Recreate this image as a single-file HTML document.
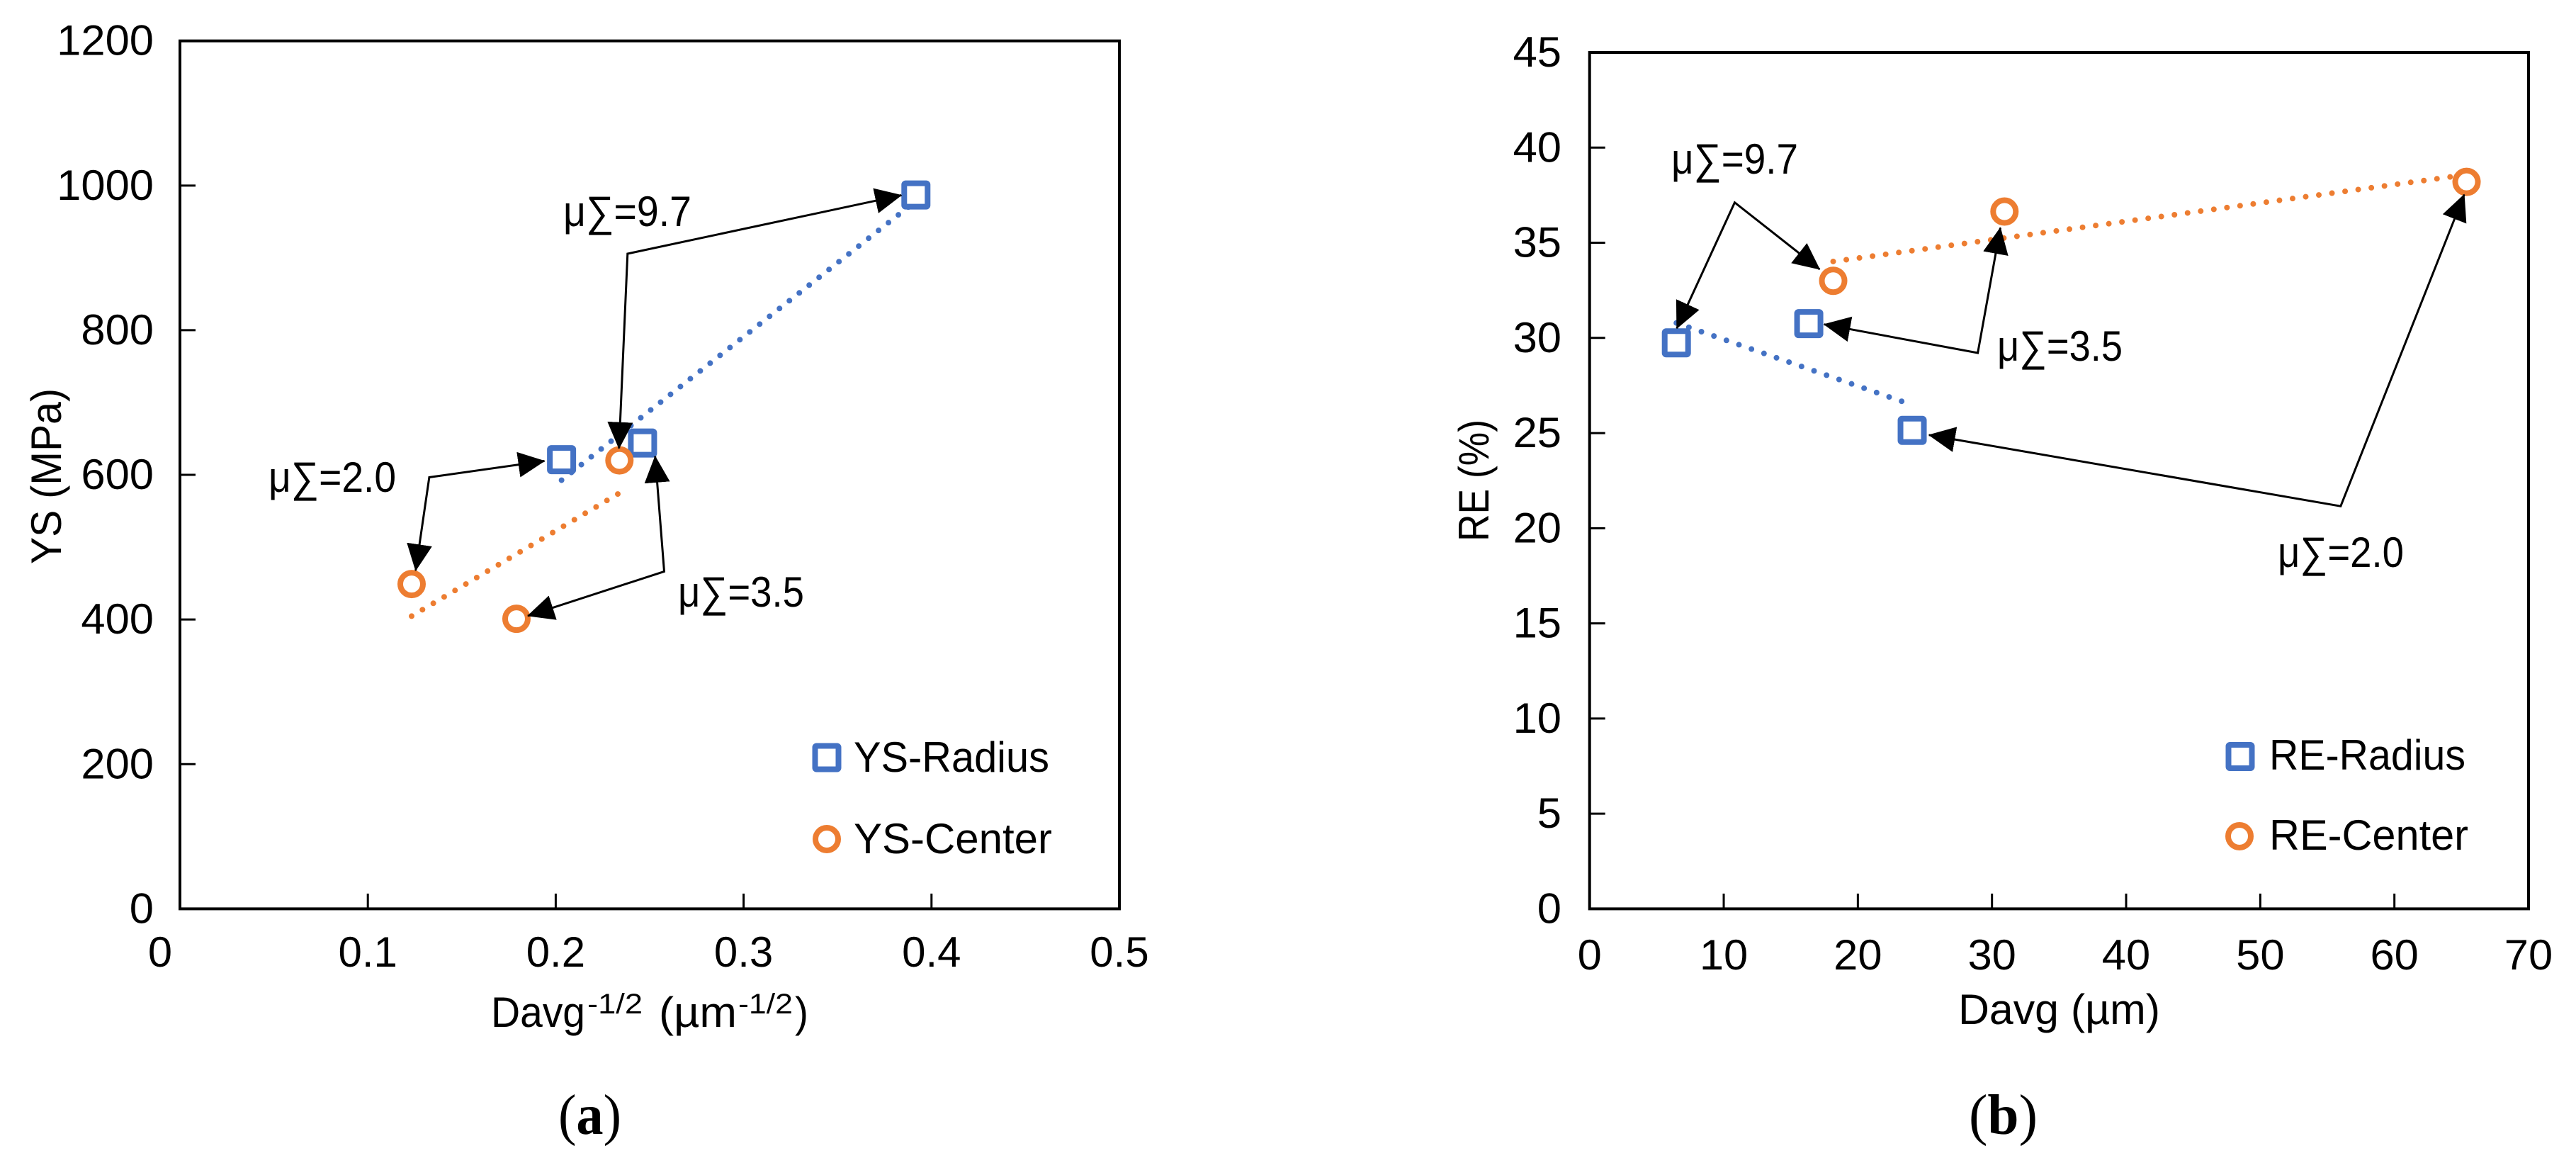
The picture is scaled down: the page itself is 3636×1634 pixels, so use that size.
<!DOCTYPE html>
<html lang="en">
<head>
<meta charset="utf-8">
<title>YS and RE versus grain size</title>
<style>
html,body{margin:0;padding:0;background:#fff;}
svg{display:block;}
text{font-family:"Liberation Sans",sans-serif;font-size:60px;fill:#000;}
.sup{font-size:40px;}
.cap{font-family:"Liberation Serif",serif;font-size:80px;}
.frame{fill:none;stroke:#000;stroke-width:4;}
.arrow{fill:none;stroke:#000;stroke-width:3;}
</style>
</head>
<body>
<svg id="figure" xmlns="http://www.w3.org/2000/svg" width="3636" height="1634" viewBox="0 0 3636 1634">
<defs>
<marker id="ah" markerUnits="userSpaceOnUse" markerWidth="42" markerHeight="38" refX="37" refY="18" orient="auto-start-reverse">
<path d="M0 0L38 18L0 36Z" fill="#000"/>
</marker>
</defs>
<rect width="3636" height="1634" fill="#fff"/>

<g id="chart-a">
<rect class="frame" x="254" y="57.7" width="1326" height="1224.7"/>
<g id="ticks-a"></g>
<g id="trends-a"></g>
<g id="marks-a"></g>
<text transform="translate(86 796) rotate(-90)" textLength="248" lengthAdjust="spacingAndGlyphs">YS (MPa)</text>
<g>
<text x="693" y="1449" textLength="133" lengthAdjust="spacingAndGlyphs">Davg</text>
<text class="sup" x="829" y="1430" textLength="78" lengthAdjust="spacingAndGlyphs">-1/2</text>
<text x="930" y="1449" textLength="110" lengthAdjust="spacingAndGlyphs">(µm</text>
<text class="sup" x="1042" y="1430" textLength="77" lengthAdjust="spacingAndGlyphs">-1/2</text>
<text x="1122" y="1449" textLength="19" lengthAdjust="spacingAndGlyphs">)</text>
</g>
<g>
<text x="795" y="319" textLength="181" lengthAdjust="spacingAndGlyphs">μ∑=9.7</text>
<polyline class="arrow" points="1272.3,275.5 885.8,358 873.7,632.7" marker-start="url(#ah)" marker-end="url(#ah)"/>
</g>
<g>
<text x="379" y="694" textLength="180" lengthAdjust="spacingAndGlyphs">μ∑=2.0</text>
<polyline class="arrow" points="768.5,650.5 605.9,673.5 586.7,805" marker-start="url(#ah)" marker-end="url(#ah)"/>
</g>
<g>
<text x="957" y="856" textLength="178" lengthAdjust="spacingAndGlyphs">μ∑=3.5</text>
<polyline class="arrow" points="924.7,643.9 937.5,806.4 745,869" marker-start="url(#ah)" marker-end="url(#ah)"/>
</g>
<g>
<rect x="1150.5" y="1052.5" width="33" height="33" rx="2" fill="#fff" stroke="#4472C4" stroke-width="8"/>
<text x="1205" y="1089" textLength="276" lengthAdjust="spacingAndGlyphs">YS-Radius</text>
<circle cx="1167" cy="1184" r="16" fill="#fff" stroke="#ED7D31" stroke-width="8"/>
<text x="1205" y="1204" textLength="280" lengthAdjust="spacingAndGlyphs">YS-Center</text>
</g>
<text class="cap" x="788" y="1600" textLength="89" lengthAdjust="spacingAndGlyphs">(<tspan font-weight="bold">a</tspan>)</text>
</g>

<g id="chart-b">
<rect class="frame" x="2243.7" y="74" width="1325.3" height="1208.4"/>
<g id="ticks-b"></g>
<g id="trends-b"></g>
<g id="marks-b"></g>
<text transform="translate(2101 764) rotate(-90)" textLength="172" lengthAdjust="spacingAndGlyphs">RE (%)</text>
<text x="2764" y="1445" textLength="285" lengthAdjust="spacingAndGlyphs">Davg (µm)</text>
<g>
<text x="2359" y="245" textLength="179" lengthAdjust="spacingAndGlyphs">μ∑=9.7</text>
<polyline class="arrow" points="2366.8,463.3 2448.5,285.7 2568.4,380" marker-start="url(#ah)" marker-end="url(#ah)"/>
</g>
<g>
<text x="2819" y="509" textLength="177" lengthAdjust="spacingAndGlyphs">μ∑=3.5</text>
<polyline class="arrow" points="2574.7,457.7 2791.6,498 2823.5,321.4" marker-start="url(#ah)" marker-end="url(#ah)"/>
</g>
<g>
<text x="3215" y="800" textLength="178" lengthAdjust="spacingAndGlyphs">μ∑=2.0</text>
<polyline class="arrow" points="2722.7,613.8 3303.8,714.3 3478.2,274.5" marker-start="url(#ah)" marker-end="url(#ah)"/>
</g>
<g>
<rect x="3145.5" y="1051" width="33" height="33" rx="2" fill="#fff" stroke="#4472C4" stroke-width="8"/>
<text x="3203" y="1086" textLength="277" lengthAdjust="spacingAndGlyphs">RE-Radius</text>
<circle cx="3161" cy="1180" r="16" fill="#fff" stroke="#ED7D31" stroke-width="8"/>
<text x="3203" y="1199" textLength="281" lengthAdjust="spacingAndGlyphs">RE-Center</text>
</g>
<text class="cap" x="2779" y="1600" textLength="97" lengthAdjust="spacingAndGlyphs">(<tspan font-weight="bold">b</tspan>)</text>
</g>
</svg>

<script>
// Panel (a) data
const ysXTicks = [0, 0.1, 0.2, 0.3, 0.4, 0.5];
const ysXTickLabels = ['0', '0.1', '0.2', '0.3', '0.4', '0.5'];
const ysYTicks = [0, 200, 400, 600, 800, 1000, 1200];
const ysYTickLabels = ['0', '200', '400', '600', '800', '1000', '1200'];
const ysRadiusX = [0.2031, 0.2462, 0.3917];
const ysRadiusY = [621, 644, 987];
const ysCenterX = [0.1233, 0.1791, 0.2339];
const ysCenterY = [449, 401, 620];

// Panel (b) data
const reXTicks = [0, 10, 20, 30, 40, 50, 60, 70];
const reXTickLabels = ['0', '10', '20', '30', '40', '50', '60', '70'];
const reYTicks = [0, 5, 10, 15, 20, 25, 30, 35, 40, 45];
const reYTickLabels = ['0', '5', '10', '15', '20', '25', '30', '35', '40', '45'];
const reRadiusX = [6.47, 16.34, 24.05];
const reRadiusY = [29.74, 30.75, 25.14];
const reCenterX = [18.16, 30.93, 65.38];
const reCenterY = [33.0, 36.64, 38.2];

const NS = 'http://www.w3.org/2000/svg';
const BLUE = '#4472C4';
const ORANGE = '#ED7D31';

function linear(d0, d1, r0, r1) {
  return function (v) { return r0 + (v - d0) * (r1 - r0) / (d1 - d0); };
}
function labelWidth(s) {
  let w = 0;
  for (const c of s) { w += c === '.' ? 15 : 34.2; }
  return w;
}
function fit(xs, ys) {
  const n = xs.length;
  const mx = xs.reduce(function (a, b) { return a + b; }, 0) / n;
  const my = ys.reduce(function (a, b) { return a + b; }, 0) / n;
  let sxy = 0, sxx = 0;
  xs.forEach(function (x, i) { sxy += (x - mx) * (ys[i] - my); sxx += (x - mx) * (x - mx); });
  const slope = sxy / sxx;
  return function (x) { return my + slope * (x - mx); };
}

function drawAxes(group, xScale, yScale, xTicks, xLabels, yTicks, yLabels, opts) {
  xTicks.forEach(function (v, i) {
    const px = xScale(v);
    if (i > 0 && i < xTicks.length - 1) {
      const l = document.createElementNS(NS, 'line');
      
      
      l.setAttribute('x1', px); l.setAttribute('x2', px);
      l.setAttribute('y1', opts.bottom); l.setAttribute('y2', opts.bottom - 21.5);
      l.setAttribute('stroke', '#000'); l.setAttribute('stroke-width', 3);
      group.appendChild(l);
    }
    const t = document.createElementNS(NS, 'text');
    
    
    t.setAttribute('x', i === 0 ? px + opts.zeroShift : px);
    t.setAttribute('y', opts.xBase);
    t.setAttribute('text-anchor', 'middle');
    t.setAttribute('textLength', labelWidth(xLabels[i]));
    t.setAttribute('lengthAdjust', 'spacingAndGlyphs');
    t.textContent = xLabels[i];
    group.appendChild(t);
  });
  yTicks.forEach(function (v, i) {
    const py = yScale(v);
    if (i > 0 && i < yTicks.length - 1) {
      const l = document.createElementNS(NS, 'line');
      
      
      l.setAttribute('x1', opts.left); l.setAttribute('x2', opts.left + 22);
      l.setAttribute('y1', py); l.setAttribute('y2', py);
      l.setAttribute('stroke', '#000'); l.setAttribute('stroke-width', 3);
      group.appendChild(l);
    }
    const t = document.createElementNS(NS, 'text');
    
    
    t.setAttribute('x', opts.yLabelRight);
    t.setAttribute('y', py + opts.yLabelDrop);
    t.setAttribute('text-anchor', 'end');
    t.setAttribute('textLength', labelWidth(yLabels[i]));
    t.setAttribute('lengthAdjust', 'spacingAndGlyphs');
    t.textContent = yLabels[i];
    group.appendChild(t);
  });
}

function drawTrend(group, xs, ys, xScale, yScale, color, gap, name) {
  const f = fit(xs, ys);
  const x0 = Math.min.apply(null, xs);
  const x1 = Math.max.apply(null, xs);
  const l = document.createElementNS(NS, 'line');
  
  
  l.setAttribute('x1', xScale(x0)); l.setAttribute('y1', yScale(f(x0)));
  l.setAttribute('x2', xScale(x1)); l.setAttribute('y2', yScale(f(x1)));
  l.setAttribute('stroke', color);
  l.setAttribute('stroke-width', 8);
  l.setAttribute('stroke-linecap', 'round');
  l.setAttribute('stroke-dasharray', '0 ' + gap);
  group.appendChild(l);
}

function drawSquares(group, xs, ys, xScale, yScale, name) {
  xs.forEach(function (x, i) {
    const r = document.createElementNS(NS, 'rect');
    
    
    r.setAttribute('x', xScale(x) - 16.5);
    r.setAttribute('y', yScale(ys[i]) - 16.5);
    r.setAttribute('width', 33);
    r.setAttribute('height', 33);
    r.setAttribute('rx', 2);
    r.setAttribute('fill', '#fff');
    r.setAttribute('stroke', BLUE);
    r.setAttribute('stroke-width', 8);
    group.appendChild(r);
  });
}

function drawCircles(group, xs, ys, xScale, yScale, name) {
  xs.forEach(function (x, i) {
    const c = document.createElementNS(NS, 'circle');
    
    
    c.setAttribute('cx', xScale(x));
    c.setAttribute('cy', yScale(ys[i]));
    c.setAttribute('r', 16);
    c.setAttribute('fill', '#fff');
    c.setAttribute('stroke', ORANGE);
    c.setAttribute('stroke-width', 8);
    group.appendChild(c);
  });
}

// Panel (a) axes
const xA = linear(0, 0.5, 254, 1580);
const yA = linear(0, 1200, 1282.4, 57.7);
drawAxes(document.getElementById('ticks-a'), xA, yA, ysXTicks, ysXTickLabels, ysYTicks, ysYTickLabels,
  { left: 254, bottom: 1282.4, xBase: 1364, yLabelRight: 217, yLabelDrop: 20, zeroShift: -28 });
const trendsA = document.getElementById('trends-a');
drawTrend(trendsA, ysRadiusX, ysRadiusY, xA, yA, BLUE, 17.8, 'trendline-ys-radius');
drawTrend(trendsA, ysCenterX, ysCenterY, xA, yA, ORANGE, 17.8, 'trendline-ys-center');
const marksA = document.getElementById('marks-a');
drawSquares(marksA, ysRadiusX, ysRadiusY, xA, yA, 'point-ys-radius');
drawCircles(marksA, ysCenterX, ysCenterY, xA, yA, 'point-ys-center');

// Panel (b) axes
const xB = linear(0, 70, 2243.7, 3569);
const yB = linear(0, 45, 1282.4, 74);
drawAxes(document.getElementById('ticks-b'), xB, yB, reXTicks, reXTickLabels, reYTicks, reYTickLabels,
  { left: 2243.7, bottom: 1282.4, xBase: 1368, yLabelRight: 2204, yLabelDrop: 20, zeroShift: 0 });
const trendsB = document.getElementById('trends-b');
drawTrend(trendsB, reRadiusX, reRadiusY, xB, yB, BLUE, 18.7, 'trendline-re-radius');
drawTrend(trendsB, reCenterX, reCenterY, xB, yB, ORANGE, 18.7, 'trendline-re-center');
const marksB = document.getElementById('marks-b');
drawSquares(marksB, reRadiusX, reRadiusY, xB, yB, 'point-re-radius');
drawCircles(marksB, reCenterX, reCenterY, xB, yB, 'point-re-center');
</script>
</body>
</html>
